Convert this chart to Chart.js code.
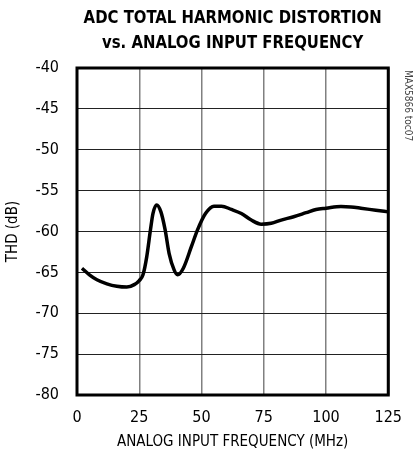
<!DOCTYPE html>
<html>
<head>
<meta charset="utf-8">
<script src="https://cdn.jsdelivr.net/npm/chart.js@4/dist/chart.umd.min.js"></script>
<style>
  html, body { margin: 0; padding: 0; background: #fff; }
  #wrap { width: 415px; height: 455px; position: relative; }
</style>
</head>
<body>
<div id="wrap"><canvas id="thd-chart"></canvas></div>
<script>
// data
const freqMHz = [2, 5, 8, 12, 16, 20, 23, 25, 26.5, 28, 29.5, 30.5, 32, 33.7, 35.4, 37, 39, 40.4, 42.7, 46, 48.4, 51.6, 55, 58, 62, 66, 70, 74, 78, 82, 87, 92, 96, 100, 106, 110, 114, 120, 125]
const thdDb = [-64.5, -65.3, -65.9, -66.4, -66.7, -66.8, -66.5, -66.0, -65.3, -63.1, -59.8, -57.8, -56.75, -57.6, -59.8, -62.7, -64.7, -65.3, -64.5, -61.8, -59.8, -57.8, -56.9, -56.9, -57.3, -57.8, -58.6, -59.1, -59.0, -58.6, -58.2, -57.7, -57.3, -57.15, -56.95, -57.0, -57.15, -57.4, -57.6]
const xTicks = [0, 25, 50, 75, 100, 125]
const yTicks = [-80, -75, -70, -65, -60, -55, -50, -45, -40]
const titleLines = ["ADC TOTAL HARMONIC DISTORTION", "vs. ANALOG INPUT FREQUENCY"]

const narrow = "'Liberation Sans Narrow', 'DejaVu Sans Condensed', Arial, sans-serif"

// titulo, borde del grafico y marca lateral
const extras = {
    id: 'extras',
    afterDraw(chart) {
        const ctx = chart.ctx
        const a = chart.chartArea
        ctx.save()
        ctx.strokeStyle = '#000'
        ctx.lineWidth = 3
        ctx.strokeRect(a.left, a.top, a.right - a.left, a.bottom - a.top)

        ctx.fillStyle = '#000'
        ctx.textAlign = 'center'
        ctx.textBaseline = 'middle'
        ctx.font = "bold 18px " + narrow
        const cx = (a.left + a.right) / 2
        ctx.save()
        ctx.translate(cx, 0)
        ctx.scale(0.92, 1)
        ctx.fillText(titleLines[0], 0, 18)
        ctx.fillText(titleLines[1], 0, 43)
        ctx.restore()

        ctx.translate(408, a.top + 2)
        ctx.rotate(Math.PI / 2)
        ctx.textAlign = 'left'
        ctx.fillStyle = '#444'
        ctx.font = "10px " + narrow
        ctx.fillText("MAX5866 toc07", 0, 0)
        ctx.restore()
    }
}

const ctx = document.getElementById('thd-chart').getContext('2d')
new Chart(ctx, {
    type: 'line',
    data: {
        datasets: [{
            data: freqMHz.map((f, i) => ({ x: f, y: thdDb[i] })),
            borderColor: '#000',
            borderWidth: 3.5,
            pointRadius: 0,
            fill: false,
            cubicInterpolationMode: 'monotone'
        }]
    },
    options: {
        responsive: true,
        maintainAspectRatio: false,
        animation: false,
        layout: { padding: { top: 68, right: 12, left: 0, bottom: 0 } },
        plugins: { legend: { display: false }, tooltip: { enabled: false } },
        scales: {
            x: {
                type: 'linear',
                min: 0, max: 125,
                afterFit(scale) { scale.height = 60 },
                afterBuildTicks(scale) { scale.ticks = xTicks.map(v => ({ value: v })) },
                grid: { color: '#808080', lineWidth: 1.5, drawTicks: false },
                border: { display: false },
                ticks: { color: '#000', padding: 13, maxRotation: 0, font: { family: narrow, size: 16 } },
                title: { display: true, text: 'ANALOG INPUT FREQUENCY (MHz)', color: '#000', padding: { top: 7 }, font: { family: narrow, size: 15 } }
            },
            y: {
                min: -80, max: -40,
                afterFit(scale) { scale.width = 77 },
                afterBuildTicks(scale) { scale.ticks = yTicks.map(v => ({ value: v })) },
                grid: { color: '#222', lineWidth: 1, drawTicks: false },
                border: { display: false },
                ticks: { color: '#000', padding: 18, font: { family: narrow, size: 16 } },
                title: { display: true, text: 'THD (dB)', color: '#000', padding: { bottom: 0 }, font: { family: narrow, size: 15 } }
            }
        }
    },
    plugins: [extras]
})
</script>
</body>
</html>
